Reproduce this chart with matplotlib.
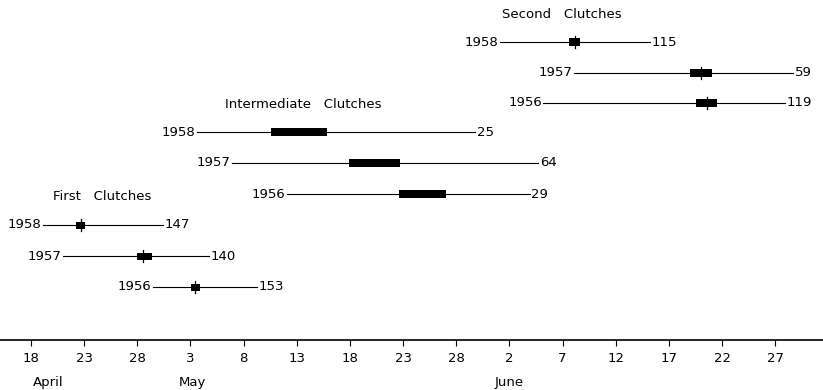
import numpy as np
import matplotlib.pyplot as plt

# days counted from March 31 (April 1 = 1, May 1 = 31, June 1 = 62)
years = ["1958", "1957", "1956"]

first_start = [19.1, 21.0, 29.5]
first_lo = [22.2, 28.0, 33.05]
first_hi = [23.1, 29.4, 33.9]
first_mean = [22.7, 28.5, 33.4]
first_end = [30.4, 34.7, 39.3]
first_n = [147, 140, 153]

inter_start = [33.6, 36.9, 42.1]
inter_lo = [40.6, 47.9, 52.6]
inter_hi = [45.8, 52.7, 57.0]
inter_end = [59.8, 65.7, 64.9]
inter_n = [25, 64, 29]

second_start = [62.1, 69.1, 66.2]
second_lo = [68.6, 80.0, 80.6]
second_hi = [69.6, 82.1, 82.5]
second_mean = [69.2, 81.0, 81.6]
second_end = [76.2, 89.7, 88.9]
second_n = [115, 59, 119]

tick_days = [18, 23, 28, 33, 38, 43, 48, 53, 58, 63, 68, 73, 78, 83, 88]
tick_labels = ["18", "23", "28", "3", "8", "13", "18", "23", "28",
               "2", "7", "12", "17", "22", "27"]
months = ["April", "May", "June"]
month_pos = [19.6, 33.2, 63.0]

plt.rcParams['font.family'] = ['DejaVu Sans']
fs = 9.5

fig = plt.figure(figsize=(8.23, 3.9), dpi=100)
ax = fig.add_axes([0, 50 / 390, 1, 340 / 390])
ax.set_xlim(15.08, 92.5)
ax.set_ylim(340, 0)

def draw_group(ys, start, lo, hi, end, n, mean=None, bar_h=8):
    for i in range(len(ys)):
        y = ys[i]
        ax.plot([start[i], end[i]], [y, y], color="black", lw=0.8)
        ax.barh(y, hi[i] - lo[i], left=lo[i], height=bar_h, color="black")
        if mean is not None:
            ax.plot([mean[i], mean[i]], [y - 6, y + 6], color="black", lw=0.9)
        ax.text(start[i] - 0.15, y, years[i], ha="right", va="center", fontsize=fs)
        ax.text(end[i] + 0.15, y, str(n[i]), ha="left", va="center", fontsize=fs)

draw_group([225, 256, 287], first_start, first_lo, first_hi, first_end, first_n, first_mean, 7)
draw_group([132, 163, 194], inter_start, inter_lo, inter_hi, inter_end, inter_n, None, 8)
draw_group([42, 73, 103], second_start, second_lo, second_hi, second_end, second_n, second_mean, 8)

ax.text(20.1, 197, "First   Clutches", ha="left", va="center", fontsize=fs)
ax.text(36.2, 105, "Intermediate   Clutches", ha="left", va="center", fontsize=fs)
ax.text(62.3, 15, "Second   Clutches", ha="left", va="center", fontsize=fs)

for s in ["left", "top", "right"]:
    ax.spines[s].set_visible(False)
ax.spines["bottom"].set_linewidth(1.2)
ax.set_yticks([])
ax.set_xticks(tick_days)
ax.set_xticklabels(tick_labels, fontsize=fs)
ax.tick_params(axis="x", length=4, width=0.8, pad=5)

for m, p in zip(months, month_pos):
    ax.text(p, -0.125, m, ha="center", va="center", fontsize=fs,
            transform=ax.get_xaxis_transform())

fig.savefig("out.png", dpi=100)
